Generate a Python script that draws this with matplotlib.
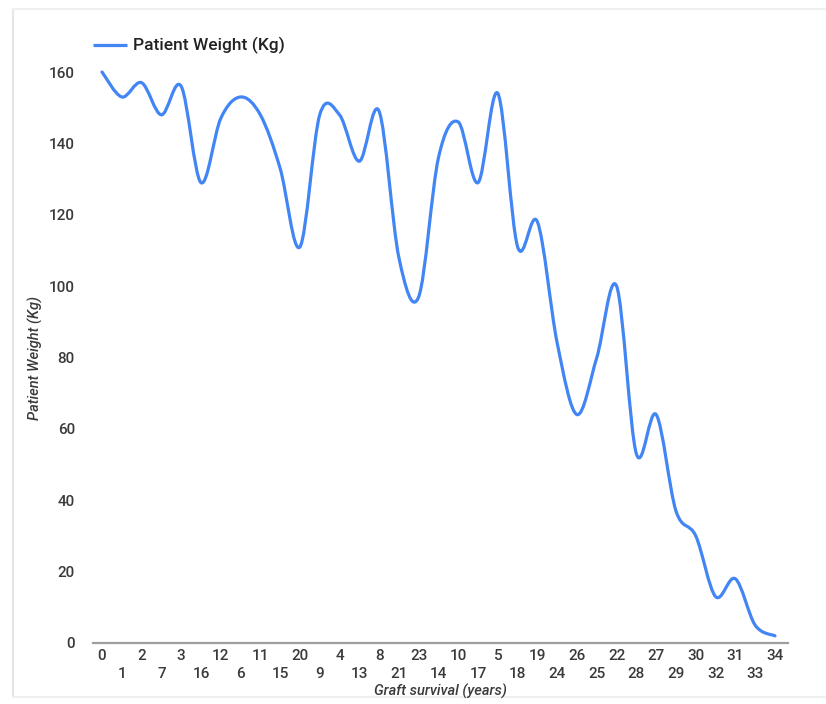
import numpy as np
import matplotlib
matplotlib.use("Agg")
import matplotlib.pyplot as plt
from matplotlib.path import Path
from matplotlib.patches import PathPatch

# Graft survival categories in display order, and the patient weight for each
survival_years = ["0", "1", "2", "7", "3", "16", "12", "6", "11", "15", "20", "9",
                  "4", "13", "8", "21", "23", "14", "10", "17", "5", "18", "19",
                  "24", "26", "25", "22", "28", "27", "29", "30", "32", "31", "33", "34"]
weight_kg = [160, 153, 157, 148, 156, 129, 147, 153, 148, 133, 111, 148,
             148, 135, 149, 108, 97, 136, 146, 129, 154, 111, 118,
             84, 64, 80, 100, 53, 64, 37, 30, 13, 18, 5, 2]
y_ticks = [0, 20, 40, 60, 80, 100, 120, 140, 160]

series_label = "Patient Weight (Kg)"
x_title = "Graft survival (years)"
y_title = "Patient Weight (Kg)"

BLUE = "#4285F4"
TEXT = "#3a3a3a"
plt.rcParams["font.family"] = ["Roboto", "DejaVu Sans"]

fig = plt.figure(figsize=(8.26, 7.04), dpi=100)
fig.patch.set_facecolor("white")

# faint page frame and the legend, laid out in pixel coordinates
frame = fig.add_axes([0, 0, 1, 1], zorder=-5)
frame.set_xlim(0, 826); frame.set_ylim(704, 0); frame.axis("off")
frame.plot([12.5, 12.5], [9, 697], color="#e6e6e6", lw=1.5)
frame.plot([12.5, 826], [9, 9], color="#f0f0f0", lw=1.5)
frame.plot([12.5, 826], [697, 697], color="#f0f0f0", lw=1.5)
frame.plot([93, 127], [45, 45], color=BLUE, lw=2.3, solid_capstyle="butt")
frame.text(133, 45, series_label, fontsize=12.5, fontweight="medium",
           color="#222222", va="center", ha="left")

ax = fig.add_axes([93 / 826, 1 - 643 / 704, (788 - 93) / 826, (643 - 72) / 704])
x = np.arange(len(weight_kg))
ax.set_xlim(-0.455, 34.66)
ax.set_ylim(0, 160)

# smooth curve through the points (Catmull-Rom segments as cubic Beziers)
pts = np.column_stack([x, weight_kg]).astype(float)
ext = np.vstack([pts[0], pts, pts[-1]])
verts = [tuple(pts[0])]
codes = [Path.MOVETO]
for i in range(len(pts) - 1):
    p0, p1, p2, p3 = ext[i], ext[i + 1], ext[i + 2], ext[i + 3]
    c1 = p1 + (p2 - p0) / 6.0
    c2 = p2 - (p3 - p1) / 6.0
    verts += [tuple(c1), tuple(c2), tuple(p2)]
    codes += [Path.CURVE4] * 3
curve = PathPatch(Path(verts, codes), facecolor="none", edgecolor=BLUE,
                  lw=2.3, capstyle="round", joinstyle="round", clip_on=False, zorder=3)
ax.add_patch(curve)

for s in ["top", "right", "left"]:
    ax.spines[s].set_visible(False)
ax.spines["bottom"].set_color("#9e9e9e")
ax.spines["bottom"].set_linewidth(1.6)

ax.set_yticks(y_ticks)
ax.set_yticklabels([str(v) for v in y_ticks], fontweight="medium")
labels = [lab if i % 2 == 0 else "\n" + lab for i, lab in enumerate(survival_years)]
ax.set_xticks(x)
ax.set_xticklabels(labels, linespacing=1.42, fontweight="medium")
ax.tick_params(axis="both", length=0, labelsize=11, labelcolor=TEXT)
ax.tick_params(axis="x", pad=4)
ax.tick_params(axis="y", pad=13)

ax.set_xlabel(x_title, fontsize=10.5, style="italic", fontweight="medium",
              color=TEXT, labelpad=2)
ax.set_ylabel(y_title, fontsize=10.5, style="italic", fontweight="medium",
              color=TEXT, labelpad=4)

fig.savefig("out.png", dpi=100, facecolor="white")
